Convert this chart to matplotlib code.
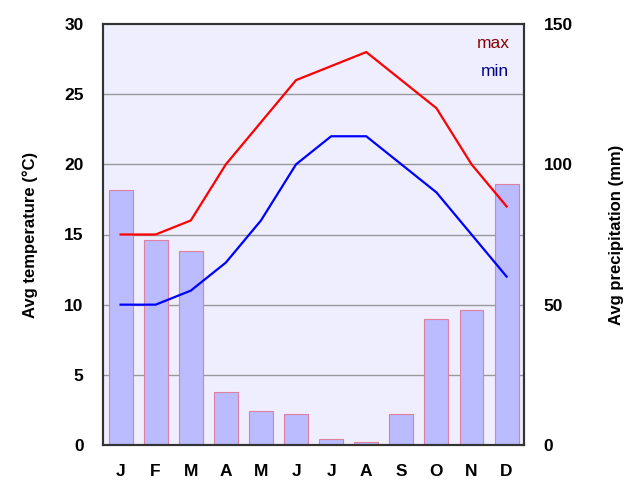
import numpy as np
import matplotlib
matplotlib.use("Agg")
import matplotlib.pyplot as plt

plt.rcParams['font.family'] = ['Liberation Sans', 'DejaVu Sans']

months = ["J", "F", "M", "A", "M", "J", "J", "A", "S", "O", "N", "D"]
tmax = [15, 15, 16, 20, 23, 26, 27, 28, 26, 24, 20, 17]
tmin = [10, 10, 11, 13, 16, 20, 22, 22, 20, 18, 15, 12]
precip = [91, 73, 69, 19, 12, 11, 2, 1, 11, 45, 48, 93]

x = np.arange(len(months))

fig = plt.figure(figsize=(6.4, 5), dpi=100)
ax = fig.add_axes([0.161, 0.11, 0.658, 0.842])
ax2 = ax.twinx()

# bars on the precipitation axis, drawn behind the lines
ax.set_zorder(2)
ax.patch.set_visible(False)
ax2.set_zorder(1)
ax2.patch.set_facecolor("#eeeeff")
ax2.patch.set_visible(True)

ax2.bar(x, precip, width=0.68, color="#bbbbff", edgecolor="#e080a0", linewidth=0.8)
ax2.set_ylim(0, 150)
ax2.set_yticks([0, 50, 100, 150])

for v in [5, 10, 15, 20, 25]:
    ax2.axhline(v * 5, color="#999999", linewidth=1, zorder=0)

ax.plot(x, tmax, color="red", linewidth=1.6)
ax.plot(x, tmin, color="blue", linewidth=1.6)
ax.set_ylim(0, 30)
ax.set_xlim(-0.5, 11.5)
ax.set_yticks([0, 5, 10, 15, 20, 25, 30])
ax.set_xticks(x)
ax.set_xticklabels(months)

for a in (ax, ax2):
    a.tick_params(length=0, labelsize=12.5, pad=14)
    for lab in a.get_xticklabels() + a.get_yticklabels():
        lab.set_fontweight("bold")
    for s in a.spines.values():
        s.set_color("#333333")
        s.set_linewidth(1.5)

ax.set_ylabel("Avg temperature (°C)", fontsize=12, fontweight="bold", labelpad=19)
ax2.set_ylabel("Avg precipitation (mm)", fontsize=12, fontweight="bold", labelpad=26)

ax.text(0.965, 0.972, "max", transform=ax.transAxes, ha="right", va="top",
        color="#880000", fontsize=12.5)
ax.text(0.965, 0.905, "min", transform=ax.transAxes, ha="right", va="top",
        color="#000088", fontsize=12.5)

fig.savefig("out.png", dpi=100)
